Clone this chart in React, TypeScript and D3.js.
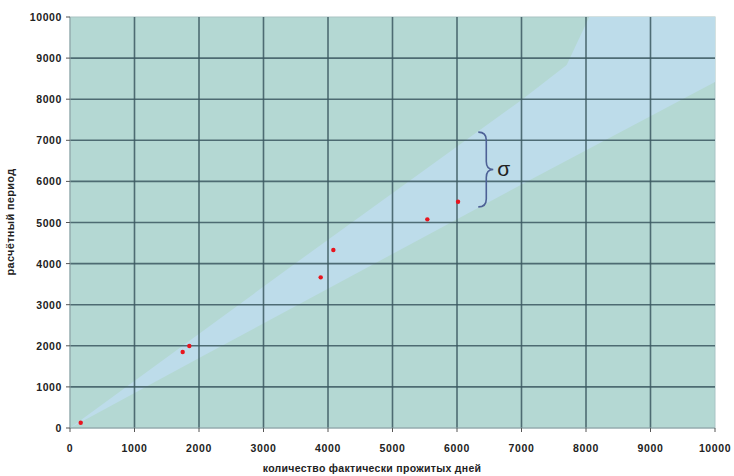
import React from "react";
import * as d3 from "d3";

const xTicks = [0, 1000, 2000, 3000, 4000, 5000, 6000, 7000, 8000, 9000, 10000];
const yTicks = [0, 1000, 2000, 3000, 4000, 5000, 6000, 7000, 8000, 9000, 10000];
const pointsX = [166, 1747, 1850, 3887, 4083, 5540, 6016];
const pointsY = [129, 1849, 1995, 3666, 4331, 5077, 5506];
const bandUpper: [number, number][] = [[0, 0], [3566, 4088], [7000, 7980], [7700, 8830], [8050, 10000], [10000, 10000]];
const bandLower: [number, number][] = [[10000, 8420], [7132, 6034], [5690, 4818], [2016, 1714], [0, 0]];
const braceX = 6330;
const braceY = [5380, 7200];
const xTitle = "количество фактически прожитых дней";
const yTitle = "расчётный период";

const W = 734, H = 476;
const L = 70, R = 715, T = 17, B = 428;

export default function App() {
  const x = d3.scaleLinear().domain([0, 10000]).range([L, R]);
  const y = d3.scaleLinear().domain([0, 10000]).range([B, T]);
  const band = [...bandUpper, ...bandLower];
  const bandPath = d3.line<[number, number]>().x(d => x(d[0])).y(d => y(d[1]))(band) + "Z";

  const bx = x(braceX);
  const y1 = y(braceY[1]);
  const y2 = y(braceY[0]);
  const ym = (y1 + y2) / 2;
  const r = 8;
  const bracePath = `M${bx},${y1} Q${bx + 8},${y1} ${bx + 8},${y1 + r} L${bx + 8},${ym - r} Q${bx + 8},${ym} ${bx + 15},${ym} Q${bx + 8},${ym} ${bx + 8},${ym + r} L${bx + 8},${y2 - r} Q${bx + 8},${y2} ${bx},${y2}`;

  const font = "Liberation Sans, Arial, sans-serif";
  return (
    <svg width={W} height={H} style={{ position: "absolute", left: 0, top: 0 }}>
      <rect x={0} y={0} width={W} height={H} fill="#ffffff" />
      <defs>
        <clipPath id="plot">
          <rect x={L} y={T} width={R - L} height={B - T} />
        </clipPath>
      </defs>
      <rect x={L} y={T} width={R - L} height={B - T} fill="#b4d8d3" stroke="#a9c4c4" strokeWidth={1} />
      <path d={bandPath} fill="#bddcea" clipPath="url(#plot)" />
      {xTicks.slice(1, -1).map(t => (
        <line key={"gx" + t} x1={x(t)} x2={x(t)} y1={T} y2={B} stroke="#3b5860" strokeWidth={1.6} strokeOpacity={0.85} />
      ))}
      {yTicks.slice(1, -1).map(t => (
        <line key={"gy" + t} x1={L} x2={R} y1={y(t)} y2={y(t)} stroke="#3b5860" strokeWidth={1.6} strokeOpacity={0.85} />
      ))}
      <line x1={L} x2={L} y1={T} y2={B} stroke="#8aa0a4" strokeWidth={1} />
      <line x1={L} x2={R} y1={B} y2={B} stroke="#8aa0a4" strokeWidth={1} />
      {yTicks.map(t => (
        <g key={"yt" + t}>
          <line x1={L - 4} x2={L} y1={y(t)} y2={y(t)} stroke="#555" strokeWidth={1} />
          <text x={L - 8} y={y(t) + 4} textAnchor="end" fontSize={10.5} fontWeight="bold" letterSpacing={0.6} fontFamily={font} fill="#222">{t}</text>
        </g>
      ))}
      {xTicks.map(t => (
        <g key={"xt" + t}>
          <line x1={x(t)} x2={x(t)} y1={B} y2={B + 4} stroke="#555" strokeWidth={1} />
          <text x={x(t)} y={B + 24} textAnchor="middle" fontSize={10.5} fontWeight="bold" letterSpacing={0.6} fontFamily={font} fill="#222">{t}</text>
        </g>
      ))}
      {pointsX.map((px, i) => (
        <circle key={"p" + i} cx={x(px)} cy={y(pointsY[i])} r={2.2} fill="#e8141e" />
      ))}
      <path d={bracePath} fill="none" stroke="#4d6196" strokeWidth={1.6} />
      <text x={bx + 19} y={ym + 7} fontSize={21} fontFamily={font} fill="#222">σ</text>
      <text x={372} y={472} textAnchor="middle" fontSize={10.5} fontWeight="bold" letterSpacing={0.3} fontFamily={font} fill="#222">{xTitle}</text>
      <text transform={`translate(14,222) rotate(-90)`} textAnchor="middle" fontSize={11} fontWeight="bold" letterSpacing={0.3} fontFamily={font} fill="#222">{yTitle}</text>
    </svg>
  );
}
